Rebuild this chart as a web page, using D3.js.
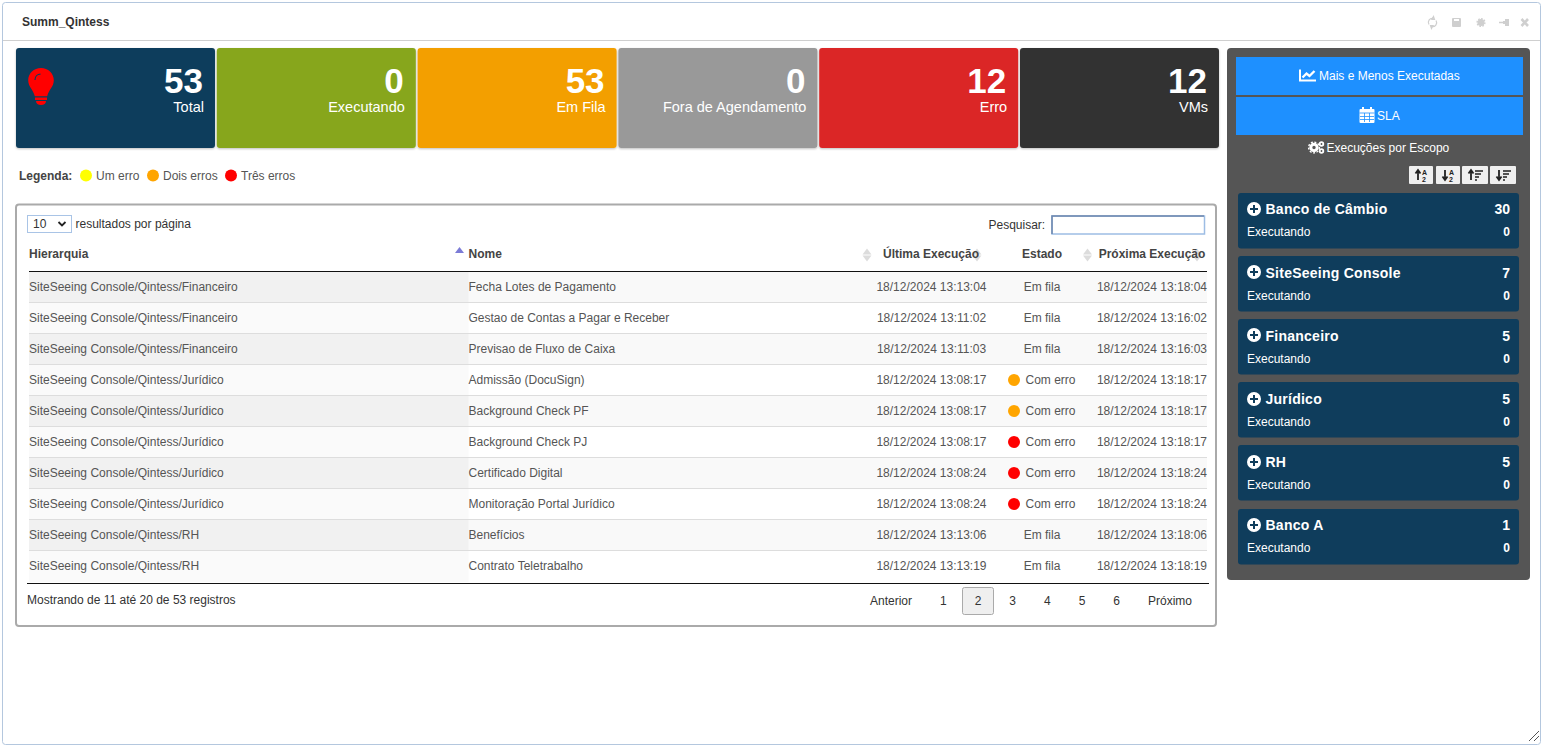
<!DOCTYPE html>
<html>
<head>
<meta charset="utf-8">
<title>Summ_Qintess</title>
<script src="https://d3js.org/d3.v7.min.js"></script>
<style>
html, body { margin: 0; padding: 0; background: #fff; overflow: hidden; }
svg { display: block; font-family: "Liberation Sans", Arial, sans-serif; }
</style>
</head>
<body>
<svg id="panel" width="1543" height="746"></svg>
<script>
var cards = [
  {label: "Total", value: 53, color: "#0f3d5c"},
  {label: "Executando", value: 0, color: "#87a61a"},
  {label: "Em Fila", value: 53, color: "#f39f05"},
  {label: "Fora de Agendamento", value: 0, color: "#999999"},
  {label: "Erro", value: 12, color: "#db2528"},
  {label: "VMs", value: 12, color: "#333333"}
];
var legendItems = [
  {label: "Um erro", color: "#ffff00", x: 86, tx: 96},
  {label: "Dois erros", color: "#ffa500", x: 153, tx: 163},
  {label: "Três erros", color: "#ff0000", x: 231, tx: 241}
];
var rows = [
  ["SiteSeeing Console/Qintess/Financeiro", "Fecha Lotes de Pagamento", "18/12/2024 13:13:04", "Em fila", null, "18/12/2024 13:18:04"],
  ["SiteSeeing Console/Qintess/Financeiro", "Gestao de Contas a Pagar e Receber", "18/12/2024 13:11:02", "Em fila", null, "18/12/2024 13:16:02"],
  ["SiteSeeing Console/Qintess/Financeiro", "Previsao de Fluxo de Caixa", "18/12/2024 13:11:03", "Em fila", null, "18/12/2024 13:16:03"],
  ["SiteSeeing Console/Qintess/Jurídico", "Admissão (DocuSign)", "18/12/2024 13:08:17", "Com erro", "#ffa500", "18/12/2024 13:18:17"],
  ["SiteSeeing Console/Qintess/Jurídico", "Background Check PF", "18/12/2024 13:08:17", "Com erro", "#ffa500", "18/12/2024 13:18:17"],
  ["SiteSeeing Console/Qintess/Jurídico", "Background Check PJ", "18/12/2024 13:08:17", "Com erro", "#ff0000", "18/12/2024 13:18:17"],
  ["SiteSeeing Console/Qintess/Jurídico", "Certificado Digital", "18/12/2024 13:08:24", "Com erro", "#ff0000", "18/12/2024 13:18:24"],
  ["SiteSeeing Console/Qintess/Jurídico", "Monitoração Portal Jurídico", "18/12/2024 13:08:24", "Com erro", "#ff0000", "18/12/2024 13:18:24"],
  ["SiteSeeing Console/Qintess/RH", "Benefícios", "18/12/2024 13:13:06", "Em fila", null, "18/12/2024 13:18:06"],
  ["SiteSeeing Console/Qintess/RH", "Contrato Teletrabalho", "18/12/2024 13:13:19", "Em fila", null, "18/12/2024 13:18:19"]
];
var scopes = [
  {name: "Banco de Câmbio", total: 30, running: 0},
  {name: "SiteSeeing Console", total: 7, running: 0},
  {name: "Financeiro", total: 5, running: 0},
  {name: "Jurídico", total: 5, running: 0},
  {name: "RH", total: 5, running: 0},
  {name: "Banco A", total: 1, running: 0}
];
var pages = ["1", "2", "3", "4", "5", "6"];

var svg = d3.select("svg#panel");

function label(parent, x, y, str, size, color, anchor, weight) {
  return parent.append("text")
    .attr("x", x).attr("y", y)
    .attr("font-size", size)
    .attr("fill", color)
    .attr("text-anchor", anchor || "start")
    .attr("font-weight", weight || "normal")
    .text(str);
}

function createWindow() {
  svg.append("rect").attr("x", 2.5).attr("y", 2.5).attr("width", 1538).attr("height", 742)
    .attr("rx", 3).attr("fill", "#fff").attr("stroke", "#b4c7de");
  svg.append("line").attr("x1", 3).attr("x2", 1540).attr("y1", 40.5).attr("y2", 40.5).attr("stroke", "#cfcfcf");
  label(svg, 22, 26, "Summ_Qintess", 12, "#333", "start", "bold");

  // window buttons, top right
  var c = "#cfcfcf";
  svg.append("path").attr("d", "M1429 24.5a4 4 0 0 1 4.5-6M1436 20.5a4 4 0 0 1-4.5 6M1433.5 16.5l-1.5 3 2.5 0zM1431.5 28.5l1.5-3-2.5 0z")
    .attr("fill", "none").attr("stroke", c).attr("stroke-width", 1.2);
  svg.append("rect").attr("x", 1452).attr("y", 18).attr("width", 9).attr("height", 9).attr("rx", 1).attr("fill", c);
  svg.append("rect").attr("x", 1454).attr("y", 19).attr("width", 5).attr("height", 2).attr("fill", "#fff");
  svg.append("circle").attr("cx", 1481).attr("cy", 22.5).attr("r", 3.5).attr("fill", c);
  svg.append("circle").attr("cx", 1481).attr("cy", 22.5).attr("r", 3.9).attr("fill", "none").attr("stroke", c).attr("stroke-width", 1.4).attr("stroke-dasharray", "1.6 1.4");
  svg.append("path").attr("d", "M1499 22.5h5").attr("stroke", c).attr("stroke-width", 1.5);
  svg.append("path").attr("d", "M1503 21h2v-2h4v7h-4v-2h-2z").attr("fill", c);
  svg.append("path").attr("d", "M1521.5 19l6.5 7M1528 19l-6.5 7").attr("stroke", c).attr("stroke-width", 2.6);

  // resize grip
  svg.append("path").attr("d", "M1529 741L1539 731M1534 741L1539 736").attr("stroke", "#555").attr("stroke-width", 1).attr("fill", "none");
}

function createCards() {
  var x = d3.scaleBand().domain(d3.range(cards.length)).range([16, 1219]).paddingInner(0.009);
  var defs = svg.append("defs");
  var f = defs.append("filter").attr("id", "soft").attr("x", "-5%").attr("y", "-5%").attr("width", "110%").attr("height", "115%");
  f.append("feDropShadow").attr("dx", 0).attr("dy", 1).attr("stdDeviation", 1).attr("flood-color", "#000").attr("flood-opacity", 0.25);

  var card = svg.selectAll(".card").data(cards).enter().append("g")
    .attr("class", "card")
    .attr("transform", function(d, i) { return "translate(" + x(i) + ",48)"; });
  card.append("rect")
    .attr("width", x.bandwidth()).attr("height", 100).attr("rx", 3)
    .attr("fill", function(d) { return d.color; })
    .attr("filter", "url(#soft)");
  card.append("text")
    .attr("x", x.bandwidth() - 12).attr("y", 45)
    .attr("text-anchor", "end").attr("font-size", 35).attr("font-weight", "bold").attr("fill", "#fff")
    .text(function(d) { return d.value; });
  card.append("text")
    .attr("x", x.bandwidth() - 11).attr("y", 64)
    .attr("text-anchor", "end").attr("font-size", 14.5).attr("fill", "#fff")
    .text(function(d) { return d.label; });

  // bulb
  svg.append("path")
    .attr("d", "M41 68c-7 0-12.8 5.4-12.8 12.2 0 6.8 5.2 9.4 6.6 16h12.4c1.4-6.6 6.6-9.2 6.6-16C53.8 73.4 48 68 41 68zM35 97.5h12v2.5h-12zM36 101h10c0 2.8-2 4-5 4s-5-1.2-5-4z")
    .attr("fill", "#ff0000");
  svg.append("path").attr("d", "M35 80c0-3.5 2.5-5.8 5.5-5.8").attr("fill", "none").attr("stroke", "#0f3d5c").attr("stroke-width", 1.2);
}

function createLegend() {
  label(svg, 19, 180, "Legenda:", 12, "#444", "start", "bold");
  var g = svg.selectAll(".legend").data(legendItems).enter().append("g").attr("class", "legend");
  g.append("circle").attr("cx", function(d) { return d.x; }).attr("cy", 175.5).attr("r", 6).attr("fill", function(d) { return d.color; });
  g.append("text").attr("x", function(d) { return d.tx; }).attr("y", 180).attr("font-size", 12).attr("fill", "#555")
    .text(function(d) { return d.label; });
}

function sortArrows(x, y, active) {
  if (!active) {
    svg.append("path").attr("d", "M" + x + " " + (y - 6) + "l-4.5 6h9z").attr("fill", "#dcdcdc");
    svg.append("path").attr("d", "M" + x + " " + (y + 7) + "l-4.5 -6h9z").attr("fill", "#dcdcdc");
  } else {
    svg.append("path").attr("d", "M" + x + " " + (y - 6) + "l-4.5 6h9z").attr("fill", "#7b7bd6");
  }
}

function createTable() {
  svg.append("rect").attr("x", 16).attr("y", 204.5).attr("width", 1200).attr("height", 421.5)
    .attr("rx", 3).attr("fill", "#fff").attr("stroke", "#aaa").attr("stroke-width", 2);

  // length menu
  svg.append("rect").attr("x", 27.5).attr("y", 215.5).attr("width", 44).attr("height", 17).attr("fill", "#fff").attr("stroke", "#a9c4e6");
  label(svg, 33, 228, "10", 12, "#333");
  svg.append("path").attr("d", "M58.5 222l3.5 3.5 3.5-3.5").attr("fill", "none").attr("stroke", "#222").attr("stroke-width", 1.8);
  label(svg, 75.5, 228, "resultados por página", 12, "#333");

  // search box
  label(svg, 988.5, 229, "Pesquisar:", 12, "#333");
  svg.append("rect").attr("x", 1052).attr("y", 216).attr("width", 152.5).attr("height", 18).attr("fill", "#fff").attr("stroke", "#9dbde4").attr("stroke-width", 1.5);
  svg.append("path").attr("d", "M1052 234V216H1204").attr("fill", "none").attr("stroke", "#6d87ad").attr("stroke-width", 1.5);

  var col = {hier: 29, nome: 468.5, ultima: 931.5, estado: 1042, prox: 1207};

  // arrows sit under the header text
  sortArrows(459.5, 253, true);
  sortArrows(867, 254.5, false);
  sortArrows(977, 254.5, false);
  sortArrows(1087.5, 254.5, false);
  sortArrows(1197, 254.5, false);
  label(svg, 29, 258, "Hierarquia", 12, "#444", "start", "bold");
  label(svg, col.nome, 258, "Nome", 12, "#444", "start", "bold");
  label(svg, 931, 258, "Última Execução", 12, "#444", "middle", "bold");
  label(svg, 1042, 258, "Estado", 12, "#444", "middle", "bold");
  label(svg, 1152, 258, "Próxima Execução", 12, "#444", "middle", "bold");

  var y = d3.scaleBand().domain(d3.range(rows.length)).range([272, 582]);

  var row = svg.selectAll(".row").data(rows).enter().append("g")
    .attr("class", "row")
    .attr("transform", function(d, i) { return "translate(0," + y(i) + ")"; });

  row.append("rect").attr("x", col.hier).attr("width", 1178).attr("height", y.bandwidth())
    .attr("fill", function(d, i) { return i % 2 == 0 ? "#f9f9f9" : "#fff"; });
  row.append("rect").attr("x", col.hier).attr("width", col.nome - col.hier).attr("height", y.bandwidth())
    .attr("fill", function(d, i) { return i % 2 == 0 ? "#f1f1f1" : "#fafafa"; });
  row.filter(function(d, i) { return i > 0; }).append("line")
    .attr("x1", col.hier).attr("x2", 1207).attr("y1", -0.5).attr("y2", -0.5).attr("stroke", "#ddd");

  function cell(x, anchor, f) {
    row.append("text").attr("x", x).attr("y", 19).attr("font-size", 12).attr("fill", "#555").attr("text-anchor", anchor).text(f);
  }
  cell(col.hier, "start", function(d) { return d[0]; });
  cell(col.nome, "start", function(d) { return d[1]; });
  cell(col.ultima, "middle", function(d) { return d[2]; });
  cell(col.prox, "end", function(d) { return d[5]; });
  row.append("text")
    .attr("x", function(d) { return d[4] ? 1025.5 : col.estado; })
    .attr("y", 19).attr("font-size", 12).attr("fill", "#555")
    .attr("text-anchor", function(d) { return d[4] ? "start" : "middle"; })
    .text(function(d) { return d[3]; });
  row.filter(function(d) { return d[4]; }).append("circle")
    .attr("cx", 1014).attr("cy", 15).attr("r", 6)
    .attr("fill", function(d) { return d[4]; });

  svg.append("line").attr("x1", 29).attr("x2", 1207).attr("y1", 271.5).attr("y2", 271.5).attr("stroke", "#111");
  svg.append("line").attr("x1", 27).attr("x2", 1209).attr("y1", 583.5).attr("y2", 583.5).attr("stroke", "#111");

  label(svg, 27, 604, "Mostrando de 11 até 20 de 53 registros", 12, "#333");

  // pagination
  var px = d3.scaleBand().domain(pages).range([926, 1134]);
  var current = "2";
  svg.append("rect").attr("x", px(current) + px.bandwidth() / 2 - 15.5).attr("y", 587.5).attr("width", 31).attr("height", 27)
    .attr("rx", 2).attr("fill", "#efefef").attr("stroke", "#aaa");
  svg.selectAll(".page").data(pages).enter().append("text")
    .attr("class", "page")
    .attr("x", function(d) { return px(d) + px.bandwidth() / 2; })
    .attr("y", 605).attr("font-size", 12).attr("fill", "#333").attr("text-anchor", "middle")
    .text(function(d) { return d; });
  label(svg, 891, 605, "Anterior", 12, "#333", "middle");
  label(svg, 1170, 605, "Próximo", 12, "#333", "middle");
}

function createSidebar() {
  svg.append("rect").attr("x", 1227).attr("y", 48).attr("width", 303).attr("height", 532).attr("rx", 4).attr("fill", "#555");

  svg.append("rect").attr("x", 1236).attr("y", 57).attr("width", 287).attr("height", 38).attr("fill", "#1e90ff");
  svg.append("rect").attr("x", 1236).attr("y", 97).attr("width", 287).attr("height", 38).attr("fill", "#1e90ff");
  label(svg, 1319, 80, "Mais e Menos Executadas", 12, "#fff");
  label(svg, 1377, 120, "SLA", 12, "#fff");
  label(svg, 1326.5, 152, "Execuções por Escopo", 12, "#fff");

  // chart icon
  svg.append("path").attr("d", "M1300 69.5v11h16").attr("fill", "none").attr("stroke", "#fff").attr("stroke-width", 2);
  svg.append("path").attr("d", "M1302.5 77.5l4-4 3 2.5 5-5").attr("fill", "none").attr("stroke", "#fff").attr("stroke-width", 2.4);
  // calendar icon
  svg.append("rect").attr("x", 1359.5).attr("y", 109).attr("width", 15).attr("height", 14).attr("rx", 1).attr("fill", "#fff");
  svg.append("path").attr("d", "M1363 107v3M1371 107v3").attr("stroke", "#fff").attr("stroke-width", 2);
  svg.append("path").attr("d", "M1359.5 113h15M1360 116.5h14M1360 119.5h14M1364.5 113v9M1369.5 113v9").attr("stroke", "#1e90ff").attr("stroke-width", 0.8);
  // cogs icon
  svg.append("circle").attr("cx", 1314).attr("cy", 147.5).attr("r", 3.2).attr("fill", "none").attr("stroke", "#fff").attr("stroke-width", 3);
  svg.append("circle").attr("cx", 1314).attr("cy", 147.5).attr("r", 5.4).attr("fill", "none").attr("stroke", "#fff").attr("stroke-width", 1.4).attr("stroke-dasharray", "2 1.6");
  svg.append("circle").attr("cx", 1321.5).attr("cy", 144).attr("r", 1.8).attr("fill", "none").attr("stroke", "#fff").attr("stroke-width", 1.8);
  svg.append("circle").attr("cx", 1321.5).attr("cy", 151).attr("r", 1.8).attr("fill", "none").attr("stroke", "#fff").attr("stroke-width", 1.8);

  // sort buttons
  var sorts = [{x: 1409, w: 24, up: true, bars: false}, {x: 1436, w: 24, up: false, bars: false}, {x: 1462, w: 26, up: true, bars: true}, {x: 1490, w: 26, up: false, bars: true}];
  var sb = svg.selectAll(".sortb").data(sorts).enter().append("g").attr("class", "sortb")
    .attr("transform", function(d) { return "translate(" + d.x + ",166)"; });
  sb.append("rect").attr("width", function(d) { return d.w; }).attr("height", 18).attr("rx", 1).attr("fill", "#efefef");
  sb.append("path")
    .attr("d", function(d) { return d.up ? "M9 14V5M6.5 7.5L9 4l2.5 3.5" : "M9 4v9M6.5 10.5L9 14l2.5-3.5"; })
    .attr("fill", "none").attr("stroke", "#222").attr("stroke-width", 1.8);
  sb.filter(function(d) { return !d.bars; }).append("text")
    .attr("x", 13).attr("y", 9).attr("font-size", 7).attr("font-weight", "bold").attr("fill", "#222").text("A");
  sb.filter(function(d) { return !d.bars; }).append("text")
    .attr("x", 13).attr("y", 15.5).attr("font-size", 7).attr("font-weight", "bold").attr("fill", "#222").text("2");
  sb.filter(function(d) { return d.bars; }).append("path")
    .attr("d", "M13 5h8M13 8h6M13 11h4M13 14h2").attr("stroke", "#222").attr("stroke-width", 1.6);

  // scope cards, the page steps them 63.2px so text rounds a bit differently per card
  var y = d3.scaleBand().domain(d3.range(scopes.length)).range([193, 572.2]);
  var card = svg.selectAll(".scope").data(scopes).enter().append("g").attr("class", "scope");
  card.append("rect").attr("x", 1238).attr("y", function(d, i) { return Math.floor(y(i)); })
    .attr("width", 281).attr("height", 55.5).attr("rx", 3).attr("fill", "#0f3d5c");
  card.append("circle").attr("cx", 1254).attr("cy", function(d, i) { return Math.round(y(i) + 16); }).attr("r", 7).attr("fill", "#fff");
  card.append("path").attr("d", function(d, i) {
    var c = Math.round(y(i) + 16);
    return "M1250 " + c + "h8M1254 " + (c - 4) + "v8";
  }).attr("stroke", "#0f3d5c").attr("stroke-width", 2);
  card.append("text").attr("x", 1265.5).attr("y", function(d, i) { return Math.round(y(i) + 21.4); })
    .attr("font-size", 14).attr("font-weight", "bold").attr("fill", "#fff")
    .attr("letter-spacing", 0.25)
    .text(function(d) { return d.name; });
  card.append("text").attr("x", 1510).attr("y", function(d, i) { return Math.round(y(i) + 21.4); })
    .attr("font-size", 14).attr("font-weight", "bold").attr("fill", "#fff").attr("text-anchor", "end")
    .text(function(d) { return d.total; });
  card.append("text").attr("x", 1247).attr("y", function(d, i) { return Math.round(y(i) + 43.3); })
    .attr("font-size", 12).attr("fill", "#fff").text("Executando");
  card.append("text").attr("x", 1510).attr("y", function(d, i) { return Math.round(y(i) + 43.3); })
    .attr("font-size", 12).attr("font-weight", "bold").attr("fill", "#fff").attr("text-anchor", "end")
    .text(function(d) { return d.running; });
}

createWindow();
createCards();
createLegend();
createTable();
createSidebar();
</script>
</body>
</html>
